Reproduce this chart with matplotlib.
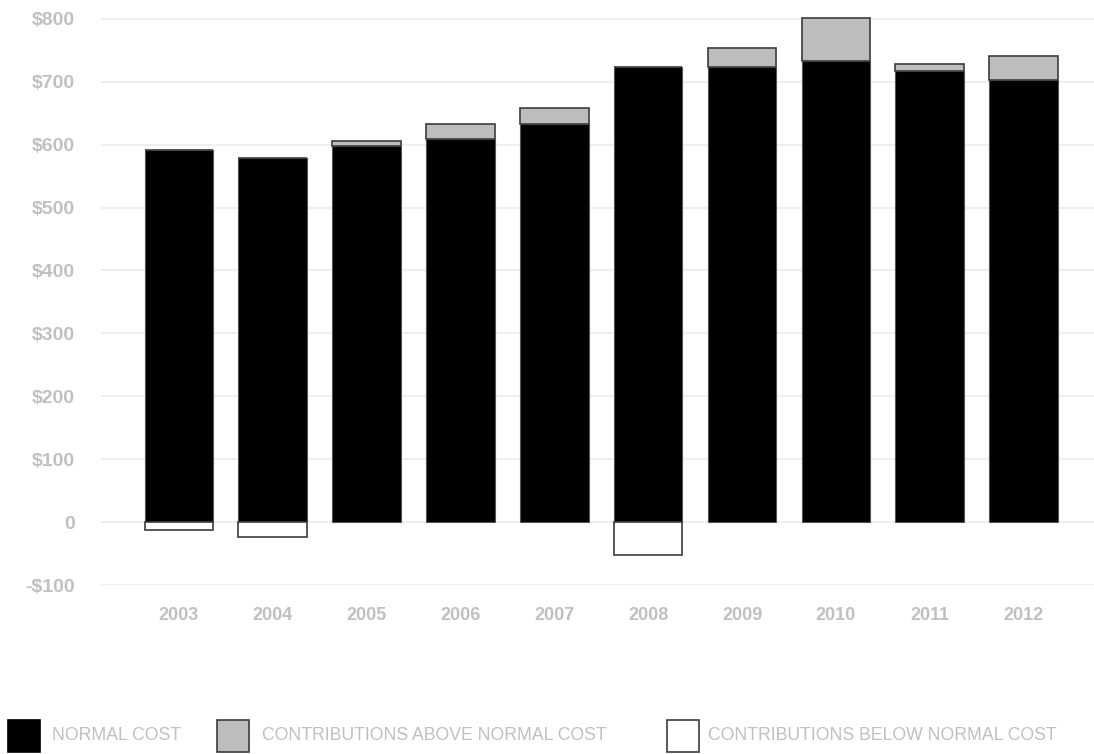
import numpy as np
import matplotlib.pyplot as plt
from matplotlib.patches import Rectangle

# Data (dollars)
years = ["2003", "2004", "2005", "2006", "2007", "2008", "2009", "2010", "2011", "2012"]
normal_cost = [591, 578, 598, 609, 633, 723, 724, 733, 717, 703]
above_normal = [0, 0, 8, 23, 25, 0, 29, 68, 11, 38]
below_normal = [-13, -23, 0, 0, 0, -52, 0, 0, 0, 0]

y_ticks = [-100, 0, 100, 200, 300, 400, 500, 600, 700, 800]
y_labels = ["-$100", "0", "$100", "$200", "$300", "$400", "$500", "$600", "$700", "$800"]

legend_labels = ["NORMAL COST", "CONTRIBUTIONS ABOVE NORMAL COST", "CONTRIBUTIONS BELOW NORMAL COST"]

BLACK = "#000000"
GRAY = "#bcbdbf"
EDGE = "#3c3c3c"
TEXT = "#c0c0c0"
GRID = "#efefef"

plt.rcParams["font.family"] = ["Liberation Sans", "DejaVu Sans"]

fig = plt.figure(figsize=(10.94, 7.54), dpi=100)
# axes spans -100 .. 806 ($800 gridline lands at ~19 px from the top)
ax = fig.add_axes([101 / 1094, 1 - 585 / 754, 1 - 101 / 1094, (585 - 15) / 754])

x = np.arange(len(years))
w = 0.73

ax.bar(x, normal_cost, w, color=BLACK, edgecolor="#555555", linewidth=0.8, zorder=3)
ax.bar(x, above_normal, w, bottom=normal_cost, color=GRAY, edgecolor=EDGE, linewidth=1.2, zorder=3)
neg = np.array(below_normal)
mask = neg < 0
ax.bar(x[mask], neg[mask], w, color="white", edgecolor=EDGE, linewidth=1.2, zorder=3)

ax.set_xlim(-0.83, 9.75)
ax.set_ylim(-100, 806)
ax.set_yticks(y_ticks)
ax.set_yticklabels(y_labels)
ax.set_xticks(x)
ax.set_xticklabels(years)

for s in ax.spines.values():
    s.set_visible(False)
ax.tick_params(length=0)
ax.tick_params(axis="y", pad=19)
ax.tick_params(axis="x", pad=16)
ax.grid(axis="y", color=GRID, linewidth=1.5, zorder=0)
ax.set_axisbelow(True)

for lab in ax.get_yticklabels():
    lab.set_fontsize(14)
    lab.set_fontweight("bold")
    lab.set_color(TEXT)
for lab in ax.get_xticklabels():
    lab.set_fontsize(13)
    lab.set_fontweight("bold")
    lab.set_color(TEXT)

# legend row at the bottom
W, H = 1094, 754
boxes = [(8, BLACK, BLACK), (217, GRAY, EDGE), (667, "white", EDGE)]
text_x = [52, 262, 708]
for (bx, fc, ec), tx, label in zip(boxes, text_x, legend_labels):
    fig.add_artist(Rectangle((bx / W, 1 - 752 / H), 32 / W, 32 / H,
                             facecolor=fc, edgecolor=ec, linewidth=1.2,
                             transform=fig.transFigure))
    fig.text(tx / W, 1 - 736 / H, label, fontsize=12.7, color=TEXT,
             ha="left", va="center")

fig.savefig("out.png", dpi=100)
